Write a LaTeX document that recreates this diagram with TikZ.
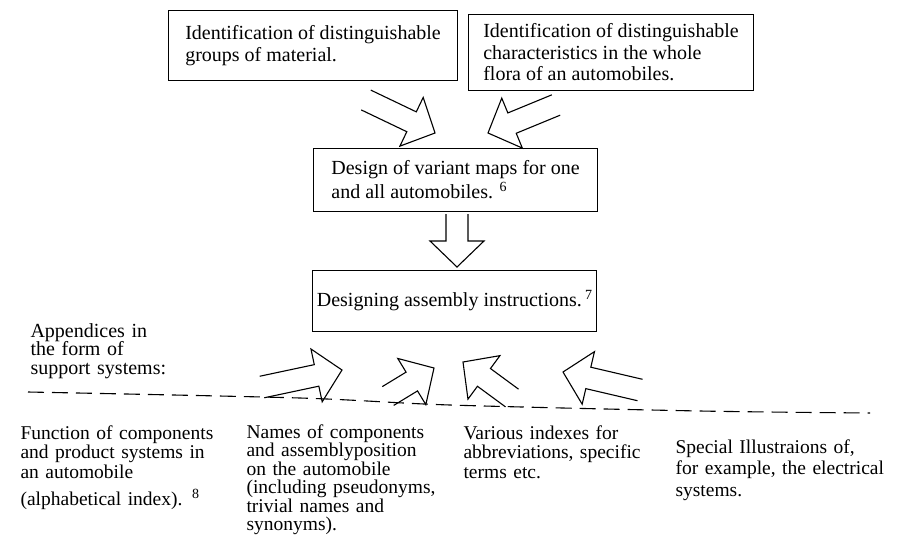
\documentclass[tikz,border=0pt]{standalone}
\usepackage{fontspec}
\setmainfont{Liberation Serif}
\usetikzlibrary{calc}

\newcommand{\supnum}[1]{\raisebox{7pt}{\fontsize{14}{14}\selectfont #1}}

\tikzset{
  fat/.style={to path={
      ($(\tikztostart)!11pt!-90:(\tikztotarget)$)
      -- ($(\tikztotarget)!26pt!(\tikztostart)!11pt!90:(\tikztostart)$)
      -- ($(\tikztotarget)!26pt!(\tikztostart)!27pt!90:(\tikztostart)$)
      -- (\tikztotarget)
      -- ($(\tikztotarget)!26pt!(\tikztostart)!27pt!-90:(\tikztostart)$)
      -- ($(\tikztotarget)!26pt!(\tikztostart)!11pt!-90:(\tikztostart)$)
      -- ($(\tikztostart)!11pt!90:(\tikztotarget)$)}}
}

\begin{document}
\begin{tikzpicture}[x=1pt,y=-1pt,line width=1.1pt,
    idbox/.style={draw,align=left,anchor=north west,inner sep=0pt,
      font=\fontsize{20}{21.5}\selectfont},
    txt/.style={align=left,anchor=base west,inner sep=0pt,
      font=\fontsize{19.5}{19.5}\selectfont}]
  \useasboundingbox (0,0) rectangle (897,539);

  % boxes
  \node[idbox,minimum width=289pt,minimum height=70pt] (groups) at (168,10)
    {Identification of distinguishable\\groups of material.};
  \node[idbox,minimum width=285pt,minimum height=76pt] (chars) at (468,14)
    {Identification of distinguishable\\characteristics in the whole\\flora of an automobiles.};
  \node[idbox,minimum width=284pt,minimum height=63pt,font=\fontsize{20}{24}\selectfont] (maps) at (313,148)
    {Design of variant maps for one\\and all automobiles. \supnum{6}};
  \node[idbox,minimum width=284pt,minimum height=61pt] (assembly) at (312,270)
    {Designing assembly instructions.\,\supnum{7}};

  % appendices
  \node[txt,text width=150pt,font=\fontsize{20}{18.5}\selectfont] (app) at (30,337)
    {Appendices in\\the form of\\support systems:};
  \node[txt,text width=215pt] (func) at (20,439)
    {Function of components\\and product systems in\\an automobile\\[8pt](alphabetical index). \supnum{8}};
  \node[txt,text width=215pt,font=\fontsize{19.5}{18.5}\selectfont] (names) at (246,438)
    {Names of components\\and assemblyposition\\on the automobile\\(including pseudonyms,\\trivial names and\\synonyms).};
  \node[txt,text width=200pt] (indexes) at (463,439)
    {Various indexes for\\abbreviations, specific\\terms etc.};
  \node[txt,text width=215pt,font=\fontsize{19.5}{21.5}\selectfont] (special) at (675,453)
    {Special Illustraions of,\\for example, the electrical\\systems.};

  \draw[dash pattern=on 16pt off 8pt] plot[smooth] coordinates
    {(28,392) (300,398) (450,405) (700,411) (870,413)};

  % block arrows
  \coordinate (t_1) at (366,100); \coordinate (h_1) at (435,133);
  \coordinate (t_2) at (556,105); \coordinate (h_2) at (488,133);
  \coordinate (t_3) at (457,214); \coordinate (h_3) at (457,267);
  \coordinate (t_4) at (262,387); \coordinate (h_4) at (342,370);
  \coordinate (t_5) at (388,396); \coordinate (h_5) at (434,368);
  \coordinate (t_6) at (512,398); \coordinate (h_6) at (463,362);
  \coordinate (t_7) at (640,390); \coordinate (h_7) at (563,372);
  \foreach \i in {1,...,7}
    \draw[fat] (t_\i) to (h_\i);
\end{tikzpicture}
\end{document}
